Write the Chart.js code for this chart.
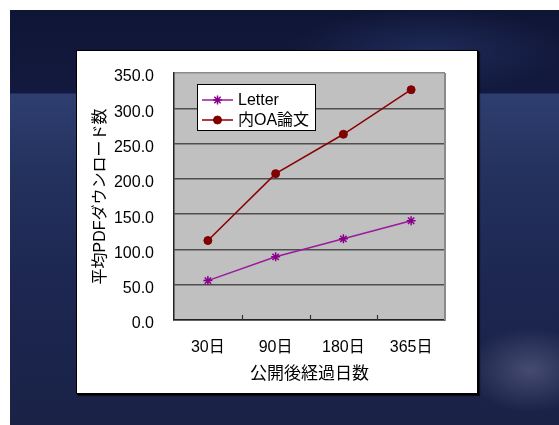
<!DOCTYPE html>
<html lang="ja">
<head>
<meta charset="utf-8">
<title>平均PDFダウンロード数</title>
<script src="https://cdn.jsdelivr.net/npm/chart.js@4.4.1/dist/chart.umd.min.js"></script>
<style>
    html, body { margin: 0; padding: 0; background: #fff; }
    body { width: 559px; height: 425px; position: relative; overflow: hidden; }
    .slide {
        position: absolute; left: 10px; top: 10px; right: 0; bottom: 0;
        background:
            radial-gradient(ellipse 90px 60px at 520px 360px, rgba(150,150,185,0.35), rgba(150,150,185,0) 70%),
            radial-gradient(ellipse 200px 60px at 420px 40px, rgba(50,70,130,0.4), rgba(50,70,130,0) 70%),
            linear-gradient(to bottom, #0f1535 0px, #131a3f 83px, #2e3e70 84px, #24325e 160px, #1c2650 280px, #1a2246 415px);
    }
    .panel {
        position: absolute; left: 76px; top: 50px; width: 400px; height: 342px;
        background: #fff; border: 1px solid #000;
        box-shadow: 1px 1px 0 #000, 2px 2px 1px rgba(0,0,0,0.6);
    }
    canvas { display: block; }
</style>
</head>
<body>
<div class="slide"></div>
<div class="panel"><canvas id="downloadChart" width="400" height="342"></canvas></div>
<script>
    // 経過日数ごとの平均PDFダウンロード数
    const DAYS = ["30日", "90日", "180日", "365日"];
    const LETTER = [55.8, 89.5, 115.0, 140.6];
    const OA_PAPERS = [112.6, 207.4, 263.2, 326.3];
    const Y_TICKS = [0, 50, 100, 150, 200, 250, 300, 350];

    Chart.defaults.font.family = "'Liberation Sans', 'Noto Sans CJK JP', sans-serif";
    Chart.defaults.color = "#000";

    // 灰色のプロット領域、右枠、目盛り、凡例
    const plotFrame = {
        id: "plotFrame",
        beforeDraw(chart) {
            const { ctx, chartArea: a } = chart;
            ctx.save();
            ctx.fillStyle = "#c0c0c0";
            ctx.fillRect(a.left, a.top, a.right - a.left, a.bottom - a.top);
            ctx.restore();
        },
        afterDraw(chart) {
            const { ctx, chartArea: a } = chart;
            const x = chart.scales.x;
            ctx.save();
            ctx.strokeStyle = "#8a8a8a";
            ctx.lineWidth = 2;
            ctx.beginPath();
            ctx.moveTo(a.right, a.top);
            ctx.lineTo(a.right, a.bottom);
            ctx.stroke();

            ctx.strokeStyle = "#333";
            ctx.lineWidth = 1.2;
            for (let i = 1; i < DAYS.length; i++) {
                const px = Math.round((x.getPixelForValue(i - 1) + x.getPixelForValue(i)) / 2) + 0.5;
                ctx.beginPath();
                ctx.moveTo(px, a.bottom);
                ctx.lineTo(px, a.bottom - 5);
                ctx.stroke();
            }

            // 凡例
            const bx = a.left + 23, by = a.top + 11, bw = 118, bh = 46;
            ctx.fillStyle = "#fff";
            ctx.fillRect(bx, by, bw, bh);
            ctx.strokeStyle = "#000";
            ctx.lineWidth = 1;
            ctx.strokeRect(bx + 0.5, by + 0.5, bw, bh);
            ctx.font = "16px 'Liberation Sans', 'Noto Sans CJK JP', sans-serif";
            ctx.textBaseline = "middle";
            chart.data.datasets.forEach((ds, i) => {
                const ry = by + 16 + i * 20;
                ctx.strokeStyle = ds.borderColor;
                ctx.lineWidth = 1.5;
                ctx.beginPath();
                ctx.moveTo(bx + 5, ry);
                ctx.lineTo(bx + 36, ry);
                ctx.stroke();
                ctx.fillStyle = ds.pointBackgroundColor;
                ctx.strokeStyle = ds.pointBorderColor;
                ctx.lineWidth = ds.pointBorderWidth;
                Chart.helpers.drawPoint(ctx, {
                    pointStyle: ds.pointStyle, radius: ds.pointRadius, rotation: 0,
                    borderWidth: ds.pointBorderWidth,
                }, bx + 20.5, ry);
                ctx.fillStyle = "#000";
                ctx.fillText(ds.label, bx + 41, ry + 1);
            });
            ctx.restore();
        },
    };

    const canvas = document.getElementById("downloadChart");
    new Chart(canvas.getContext("2d"), {
        type: "line",
        data: {
            labels: DAYS,
            datasets: [
                {
                    label: "Letter",
                    data: LETTER,
                    borderColor: "#9a1a9a",
                    borderWidth: 1.5,
                    pointStyle: "star",
                    pointRadius: 4.5,
                    pointBorderColor: "#8a008a",
                    pointBackgroundColor: "#8a008a",
                    pointBorderWidth: 1.5,
                    tension: 0,
                },
                {
                    label: "内OA論文",
                    data: OA_PAPERS,
                    borderColor: "#8b0000",
                    borderWidth: 1.5,
                    pointStyle: "circle",
                    pointRadius: 4,
                    pointBorderColor: "#800000",
                    pointBackgroundColor: "#800000",
                    pointBorderWidth: 1,
                    tension: 0,
                },
            ],
        },
        options: {
            responsive: false,
            animation: false,
            layout: { padding: { left: 0, top: 22, right: 32, bottom: 0 } },
            plugins: {
                legend: { display: false },
                tooltip: { enabled: false },
            },
            scales: {
                x: {
                    offset: true,
                    // 目盛り線は透明にして、ラベルとの間隔だけに使う
                    grid: {
                        display: true,
                        drawOnChartArea: false,
                        tickLength: 18,
                        tickColor: "rgba(0,0,0,0)",
                    },
                    border: { display: true, color: "#222", width: 1.5 },
                    ticks: { font: { size: 16 }, padding: 0 },
                    title: {
                        display: true,
                        text: "公開後経過日数",
                        font: { size: 17 },
                        padding: { top: 0, bottom: 8.5 },
                    },
                    afterFit(scale) { scale.height = 73; },
                },
                y: {
                    min: Y_TICKS[0],
                    max: Y_TICKS[Y_TICKS.length - 1],
                    afterBuildTicks(scale) {
                        scale.ticks = Y_TICKS.map((v) => ({ value: v }));
                    },
                    grid: {
                        lineWidth: 1.5,
                        color: (c) => (c.tick && c.tick.value === 350 ? "#8a8a8a" : "#4e4e4e"),
                        tickLength: 20,
                        tickColor: "rgba(0,0,0,0)",
                    },
                    border: { display: true, color: "#222", width: 1.5 },
                    ticks: {
                        font: { size: 16 },
                        padding: 0,
                        labelOffset: 4,
                        callback: (v) => Number(v).toFixed(1),
                    },
                    title: {
                        display: true,
                        text: "平均PDFダウンロード数",
                        font: { size: 16 },
                        padding: { top: 14, bottom: 0 },
                    },
                    afterFit(scale) { scale.width = 97; },
                },
            },
        },
        plugins: [plotFrame],
    });
</script>
</body>
</html>
